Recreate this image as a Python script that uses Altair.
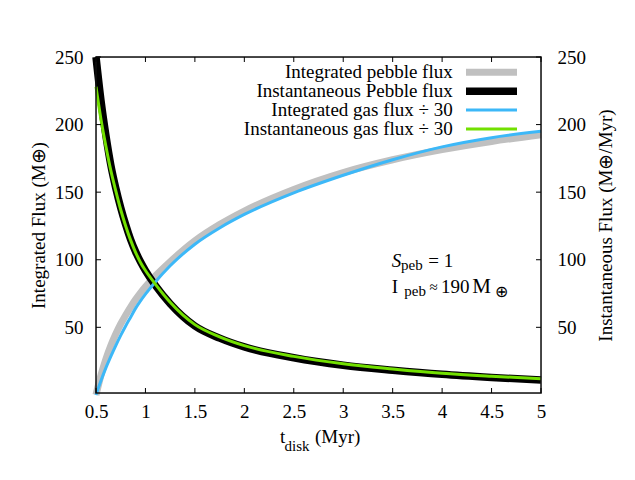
import altair as alt
import pandas as pd

# ---- data ----
t = [0.5, 0.55, 0.6, 0.65, 0.7, 0.75, 0.8, 0.85, 0.9, 0.95, 1.0, 1.1, 1.25, 1.5,
     1.75, 2.0, 2.5, 3.0, 3.5, 4.0, 4.5, 5.0]
integ_peb = [0, 14.5, 26.5, 36.5, 45, 52.5, 59, 65, 70.5, 75.5, 80, 88, 98.5, 114,
             126, 136, 152, 164.5, 174, 181.5, 187.5, 192.5]
inst_peb = [250, 218, 192, 170, 153, 138.5, 126, 115, 106, 98.5, 92, 81, 67.5, 51,
            42, 35.5, 27.5, 22, 18.3, 15.2, 12.9, 11]
integ_gas = [0, 10.5, 20, 28.5, 36.5, 44, 51, 57.5, 64, 69.5, 74.5, 83.5, 95.5, 111.5,
             123.5, 133.5, 149.5, 162.5, 174, 183.5, 190.3, 195]
inst_gas = [228, 204, 184, 166, 151, 137, 125, 114.5, 105.5, 98, 92, 82, 68.5, 52,
            43, 36.5, 28.5, 23, 19.2, 16, 13.8, 12]

series_names = ["Integrated pebble flux", "Instantaneous Pebble flux",
                "Integrated gas flux ÷ 30", "Instantaneous gas flux ÷ 30"]
series_colors = ["#c0c0c0", "#000000", "#3cb8f8", "#72e000"]
series_widths = [7, 7.5, 3, 3]

x_ticks = [0.5, 1, 1.5, 2, 2.5, 3, 3.5, 4, 4.5, 5]
y_ticks = [50, 100, 150, 200, 250]

W, H = 445, 336
FONT = "Liberation Serif"
FS = 19
SUB = 15

xs = alt.Scale(domain=[0.5, 5], nice=False, zero=False)
ys = alt.Scale(domain=[1.4, 250], nice=False, zero=False)
color_scale = alt.Scale(domain=series_names, range=series_colors)
width_scale = alt.Scale(type="ordinal", domain=series_names, range=series_widths)

x_axis = alt.Axis(values=x_ticks, format="~g", title=None, ticks=False, domain=False,
                  grid=False, labelPadding=9, labelFont=FONT, labelFontSize=FS,
                  labelColor="black", labelFlush=False, labelBound=False)
left_axis = alt.Axis(values=y_ticks, orient="left", title="Integrated Flux (M⊕)",
                     ticks=False, domain=False, grid=False, labelPadding=13,
                     labelFont=FONT, labelFontSize=FS, labelColor="black",
                     titleFont=FONT, titleFontSize=FS, titleFontWeight="normal",
                     titleColor="black", titlePadding=6)
right_axis = alt.Axis(values=y_ticks, orient="right", title="Instantaneous Flux (M⊕/Myr)",
                      ticks=False, domain=False, grid=False, labelPadding=16,
                      labelFont=FONT, labelFontSize=FS, labelColor="black",
                      titleFont=FONT, titleFontSize=FS, titleFontWeight="normal",
                      titleColor="black", titlePadding=11, titleAngle=270,
                      titleBaseline="top")


def line(name, vals, yaxis):
    df = pd.DataFrame({"t": t, "v": vals, "series": name})
    return alt.Chart(df).mark_line(interpolate="monotone").encode(
        x=alt.X("t:Q", scale=xs, axis=x_axis),
        y=alt.Y("v:Q", scale=ys, axis=yaxis),
        color=alt.Color("series:N", scale=color_scale, legend=None),
        strokeWidth=alt.StrokeWidth("series:N", scale=width_scale, legend=None),
    )


l_gray = line(series_names[0], integ_peb, left_axis)
l_black = line(series_names[1], inst_peb, right_axis)
l_blue = line(series_names[2], integ_gas, None)
l_green = line(series_names[3], inst_gas, None)

# frame
frame = alt.Chart(pd.DataFrame({"f": [0]})).mark_rect(
    fillOpacity=0, stroke="#111111", strokeWidth=1.5).encode(
    x=alt.value(0), x2=alt.value(W), y=alt.value(0), y2=alt.value(H))

# inward tick marks (gnuplot style, mirrored)
xt = pd.DataFrame({"t": x_ticks})
yt = pd.DataFrame({"v": y_ticks})
tick_style = dict(color="black", strokeWidth=1)
xt_bottom = alt.Chart(xt).mark_rule(**tick_style).encode(
    x=alt.X("t:Q", scale=xs, axis=x_axis), y=alt.value(H), y2=alt.value(H - 5))
xt_top = alt.Chart(xt).mark_rule(**tick_style).encode(
    x=alt.X("t:Q", scale=xs, axis=x_axis), y=alt.value(0), y2=alt.value(5))
yt_left = alt.Chart(yt).mark_rule(**tick_style).encode(
    y=alt.Y("v:Q", scale=ys, axis=None), x=alt.value(0), x2=alt.value(5))
yt_right = alt.Chart(yt).mark_rule(**tick_style).encode(
    y=alt.Y("v:Q", scale=ys, axis=None), x=alt.value(W), x2=alt.value(W - 5))

# legend (gnuplot style: text on the left, line sample on the right)
leg_df = pd.DataFrame({"series": series_names})
leg_y = alt.Y("series:N", scale=alt.Scale(type="point", domain=series_names,
                                          range=[15.3, 72], padding=0), axis=None)
leg_text = alt.Chart(leg_df).mark_text(
    align="right", baseline="alphabetic", dy=5.5, font=FONT, fontSize=FS,
    color="black").encode(y=leg_y, x=alt.value(356.7), text="series:N")
leg_line = alt.Chart(leg_df).mark_rule().encode(
    y=leg_y, x=alt.value(370), x2=alt.value(421),
    color=alt.Color("series:N", scale=color_scale, legend=None),
    strokeWidth=alt.StrokeWidth("series:N", scale=width_scale, legend=None))


def txt(s, x, y, size=FS, style="normal"):
    return alt.Chart(pd.DataFrame({"s": [s]})).mark_text(
        font=FONT, fontSize=size, fontStyle=style, color="black",
        align="left", baseline="alphabetic").encode(
        text="s:N", x=alt.value(x), y=alt.value(y))


texts = [
    # x-axis title: t_disk (Myr)
    txt("t", 184, 386), txt("disk", 188.5, 393.5, SUB), txt("(Myr)", 219, 386),
    # annotation
    txt("S", 295.7, 209.7, style="italic"), txt("peb", 305, 213, SUB), txt("= 1", 332.3, 209.7),
    txt("I", 295.7, 236.3), txt("peb", 308.3, 238.7, SUB), txt("≈", 333.5, 234.5, 15),
    txt("190", 345, 236.3), txt("M", 376.3, 236.3, 21), txt("⊕", 398.5, 240, 16),
]

chart = alt.layer(
    l_gray, l_black, l_blue, l_green, frame, xt_bottom, xt_top, yt_left, yt_right,
    leg_text, leg_line, *texts
).resolve_scale(y="independent").properties(
    width=W, height=H, autosize="none",
    padding={"left": 88, "top": 49, "right": 86, "bottom": 79},
).configure_view(strokeWidth=0).configure(background="white")

chart.save("out.html", embed_options={"renderer": "svg", "actions": False})
